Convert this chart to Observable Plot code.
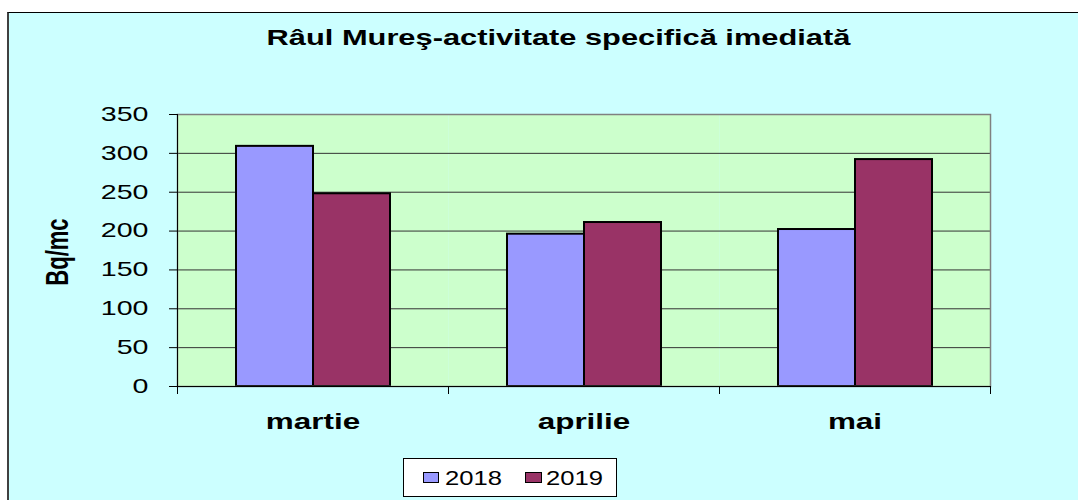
<!DOCTYPE html>
<html>
<head>
<meta charset="utf-8">
<script src="https://cdn.jsdelivr.net/npm/d3@7"></script>
<script src="https://cdn.jsdelivr.net/npm/@observablehq/plot@0.6"></script>
<style>
  html, body { margin: 0; padding: 0; background: #fff; width: 1078px; height: 500px; overflow: hidden; }
  #root { position: relative; width: 1078px; height: 500px; font-family: "Liberation Sans", Arial, sans-serif; }
  #bg { position: absolute; left: 7px; top: 12px; right: 0; bottom: 0; background: #CCFFFF;
        border-top: 1px solid #000; border-left: 2px solid #404040; }
  #title { position: absolute; left: 0; top: 25px; width: 1116px; text-align: center; font-size: 22px;
           font-weight: bold; line-height: normal; color: #000; white-space: nowrap; }
  #title span { display: inline-block; transform: scaleX(1.40); }
  #ylabel { position: absolute; left: 58px; top: 252px; font-size: 22px; font-weight: bold; white-space: nowrap;
            transform: translate(-50%, -50%) rotate(-90deg) scale(1, 1.43); }
  #chart { position: absolute; left: 0; top: 70px; }
  #legend { position: absolute; left: 403px; top: 458px; width: 214px; height: 39px; box-sizing: border-box;
            background: #fff; border: 1px solid #000; }
  .sw { position: absolute; top: 13px; height: 11px; box-sizing: border-box; border: 1px solid #000; }
  .lt { position: absolute; top: 9px; font-size: 20px; line-height: 20px; transform: scaleX(1.28); transform-origin: left center; }
</style>
</head>
<body>
<div id="root">
  <div id="bg"></div>
  <div id="title"></div>
  <div id="chart"></div>
  <div id="ylabel"></div>
  <div id="legend"></div>
</div>
<script>
// ---- data ----
const titleText = "Râul Mureş-activitate specifică imediată";
const yLabel = "Bq/mc";
const months = ["martie", "aprilie", "mai"];
const years = ["2018", "2019"];
const values2018 = [309, 196, 202];
const values2019 = [248, 211, 292];
const yTicks = [0, 50, 100, 150, 200, 250, 300, 350];
const yearColors = ["#9999FF", "#993366"];

const data = months.flatMap((m, i) => [
  {month: m, year: years[0], value: values2018[i]},
  {month: m, year: years[1], value: values2019[i]}
]);

document.querySelector("#title").innerHTML = "<span></span>";
document.querySelector("#title span").textContent = titleText;
document.querySelector("#ylabel").textContent = yLabel;

const H = 370, MT = 44, MB = 54;
const plot = Plot.plot({
  width: 1078,
  height: H,
  marginLeft: 176,
  marginRight: 88,
  marginTop: MT,
  marginBottom: MB,
  style: {background: "transparent", fontFamily: "'Liberation Sans', Arial, sans-serif", color: "#000", overflow: "visible"},
  fx: {domain: months, padding: 0, label: null},
  x: {domain: years, paddingInner: 0, paddingOuter: 0.755, axis: null},
  y: {domain: [0, 350], label: null},
  color: {domain: years, range: yearColors},
  marks: [
    Plot.frame({fill: "#CCFFCC", stroke: null}),
    Plot.gridY(yTicks, {stroke: "#333", strokeOpacity: 1, strokeWidth: 1}),
    Plot.barY(data, {fx: "month", x: "year", y: "value", fill: "year", stroke: "#000", strokeWidth: 2}),
    Plot.frame({facet: "super", stroke: "#808080", strokeWidth: 1.5}),
    Plot.frame({facet: "super", anchor: "left", stroke: "#000"}),
    Plot.ruleY([0], {stroke: "#000"}),
    Plot.frame({anchor: "left", stroke: "#000", insetTop: H - MT - MB, insetBottom: -7}),
    Plot.frame({facet: "super", anchor: "right", stroke: "#000", insetTop: H - MT - MB, insetBottom: -7}),
    Plot.axisY(yTicks, {tickSize: 8, tickPadding: 21, fontSize: 20, label: null}),
    Plot.axisFx({anchor: "bottom", tickSize: 0, tickPadding: 27, fontSize: 22, fontWeight: "bold", label: null})
  ]
});

// horizontal stretch of the tick-label glyphs, as in the reference
const SX = 1.43;
plot.querySelectorAll('g[aria-label$="tick label"] text').forEach(t => {
  const tr = t.getAttribute("transform") || "";
  t.setAttribute("transform", `${tr} scale(${SX},1)`);
});
document.querySelector("#chart").appendChild(plot);

// legend
const legend = document.querySelector("#legend");
const swLeft = [19, 121], swW = [16, 17], txtLeft = [41, 142];
years.forEach((yr, i) => {
  const sw = document.createElement("div");
  sw.className = "sw";
  sw.style.left = swLeft[i] + "px";
  sw.style.width = swW[i] + "px";
  sw.style.background = yearColors[i];
  legend.appendChild(sw);
  const t = document.createElement("span");
  t.className = "lt";
  t.style.left = txtLeft[i] + "px";
  t.textContent = yr;
  legend.appendChild(t);
});
</script>
</body>
</html>
